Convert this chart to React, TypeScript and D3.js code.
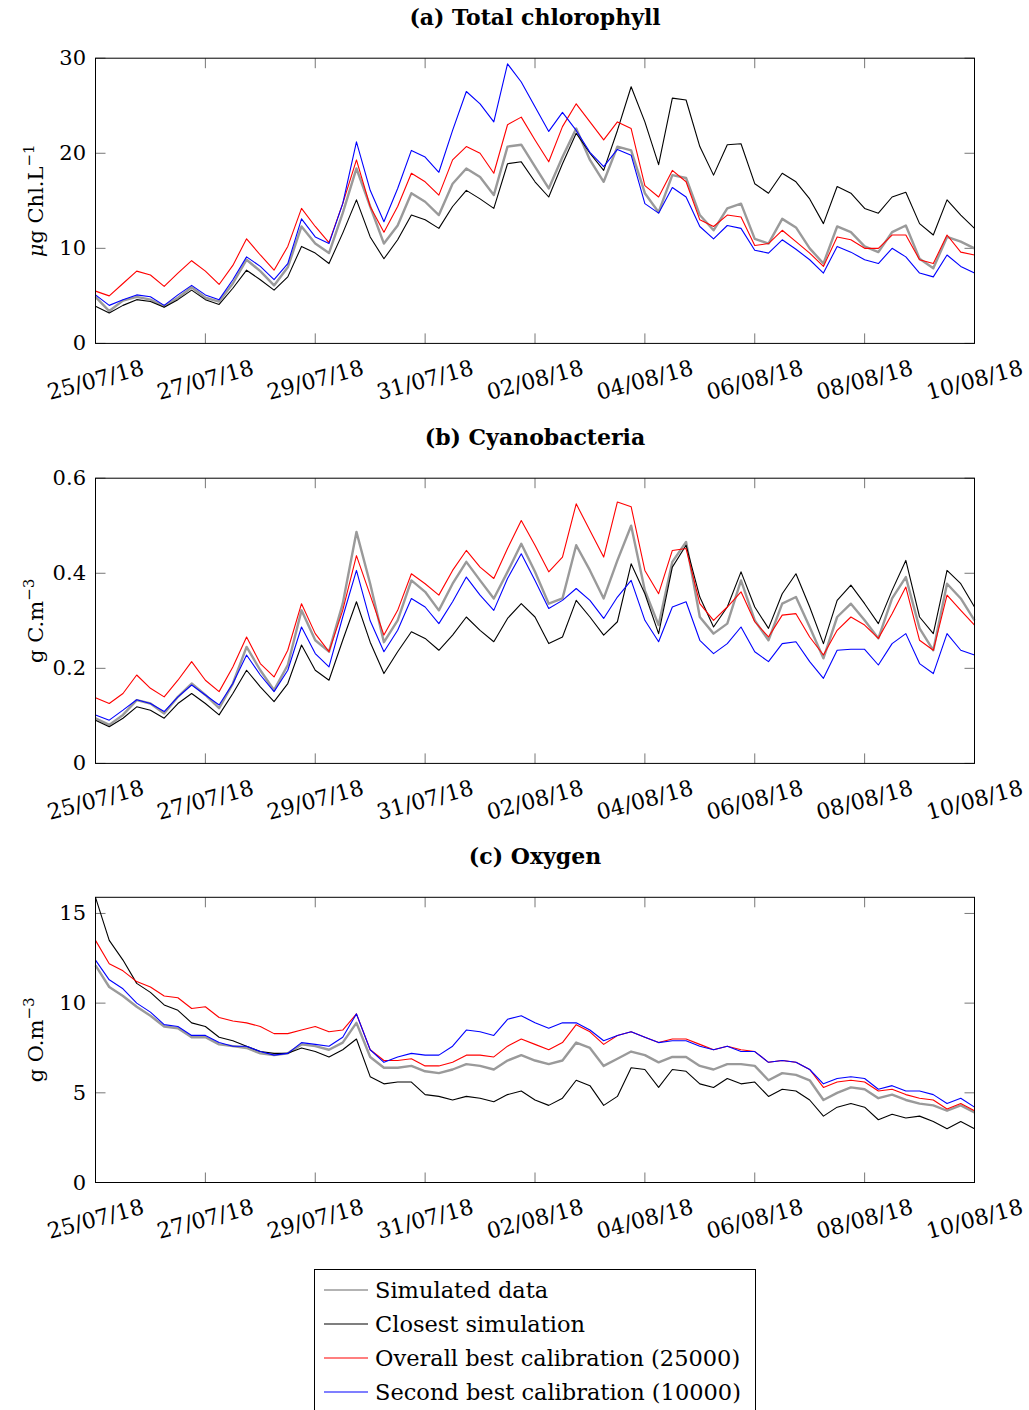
import React, { useEffect } from 'react';
import * as d3 from 'd3';

// sampling of every series: one value every 6 hours from 25/07/18 00:00
const START_DATE = '25/07/18';
const STEP_HOURS = 6;
const X_TICK_LABELS = ['25/07/18', '27/07/18', '29/07/18', '31/07/18', '02/08/18', '04/08/18', '06/08/18', '08/08/18', '10/08/18'];

const LEGEND_LABELS = ['Simulated data', 'Closest simulation', 'Overall best calibration (25000)', 'Second best calibration (10000)'];

// (a) Total chlorophyll, µg Chl.L-1
const CHL_SIMULATED = [
  4.9, 3.4, 4.5, 4.9, 4.6, 3.9, 4.8, 5.9, 4.8, 4.4, 6.3, 8.8, 7.6, 6.1, 8.0, 12.3, 10.5, 9.5, 13.7, 18.4, 14.4, 10.5,
  12.4, 15.8, 14.9, 13.5, 16.8, 18.4, 17.5, 15.6, 20.7, 20.9, 18.6, 16.3, 19.6, 22.6, 19.3, 17.0, 20.7, 20.3, 15.8, 13.8, 17.7,
  17.4, 13.5, 11.9, 14.2, 14.7, 11.0, 10.5, 13.1, 12.2, 10.0, 8.4, 12.3, 11.7, 10.2, 9.6, 11.7, 12.4, 8.9, 7.9, 11.2, 10.7, 10.0,
];
const CHL_CLOSEST = [
  3.9, 3.2, 4.0, 4.6, 4.4, 3.8, 4.6, 5.6, 4.6, 4.1, 5.8, 7.7, 6.7, 5.6, 7.0, 10.2, 9.5, 8.4, 11.6, 15.1, 11.2, 8.9,
  10.9, 13.5, 13.0, 12.1, 14.4, 16.1, 15.2, 14.2, 18.9, 19.1, 17.0, 15.4, 18.9, 22.1, 20.0, 18.2, 22.4, 27.0, 23.3, 18.8, 25.8,
  25.6, 20.7, 17.7, 20.9, 21.0, 16.8, 15.8, 17.9, 17.0, 15.2, 12.6, 16.5, 15.8, 14.2, 13.7, 15.4, 15.9, 12.6, 11.4, 15.1, 13.5, 12.1,
];
const CHL_BEST = [
  5.5, 5.0, 6.3, 7.6, 7.2, 6.0, 7.4, 8.7, 7.6, 6.2, 8.2, 11.0, 9.3, 7.7, 10.2, 14.2, 12.3, 10.6, 14.7, 19.3, 14.4, 11.7,
  14.4, 17.9, 17.0, 15.6, 19.3, 20.7, 20.0, 17.9, 23.0, 23.8, 21.4, 19.1, 22.8, 25.2, 23.3, 21.4, 23.3, 22.6, 16.6, 15.4, 18.2,
  17.0, 13.0, 12.3, 13.5, 13.3, 10.3, 10.5, 11.9, 10.7, 9.5, 8.1, 11.2, 10.9, 10.0, 10.0, 11.4, 11.4, 8.8, 8.4, 11.4, 9.6, 9.3,
];
const CHL_SECOND = [
  5.1, 4.0, 4.6, 5.1, 4.9, 4.0, 5.1, 6.1, 5.1, 4.6, 6.7, 9.1, 8.1, 6.7, 8.4, 13.1, 11.2, 10.5, 14.7, 21.2, 16.1, 12.8,
  16.3, 20.3, 19.6, 18.0, 22.4, 26.5, 25.2, 23.3, 29.4, 27.5, 24.9, 22.3, 24.3, 22.4, 20.1, 18.6, 20.4, 19.8, 14.7, 13.7, 16.4,
  15.4, 12.3, 11.0, 12.4, 12.1, 9.8, 9.5, 10.9, 9.9, 8.8, 7.4, 10.2, 9.6, 8.8, 8.4, 10.0, 9.1, 7.4, 7.0, 9.3, 8.1, 7.4,
];

// (b) Cyanobacteria, g C.m-3
const CYANO_SIMULATED = [
  0.095, 0.081, 0.102, 0.133, 0.126, 0.105, 0.140, 0.168, 0.144, 0.116, 0.168, 0.245, 0.196, 0.154, 0.207, 0.322, 0.259, 0.235, 0.336, 0.487, 0.378, 0.255,
  0.301, 0.385, 0.361, 0.322, 0.378, 0.424, 0.385, 0.347, 0.403, 0.462, 0.403, 0.336, 0.347, 0.459, 0.406, 0.347, 0.427, 0.500, 0.364, 0.291, 0.424,
  0.466, 0.308, 0.273, 0.294, 0.385, 0.301, 0.259, 0.336, 0.350, 0.287, 0.221, 0.308, 0.336, 0.301, 0.263, 0.347, 0.392, 0.284, 0.238, 0.378, 0.347, 0.301,
];
const CYANO_CLOSEST = [
  0.091, 0.077, 0.095, 0.119, 0.112, 0.095, 0.126, 0.147, 0.126, 0.102, 0.147, 0.196, 0.161, 0.130, 0.168, 0.249, 0.196, 0.175, 0.259, 0.340, 0.255, 0.189,
  0.235, 0.277, 0.263, 0.238, 0.270, 0.308, 0.280, 0.256, 0.305, 0.336, 0.308, 0.252, 0.266, 0.343, 0.308, 0.270, 0.298, 0.420, 0.357, 0.273, 0.413,
  0.459, 0.350, 0.287, 0.329, 0.403, 0.329, 0.284, 0.357, 0.399, 0.329, 0.252, 0.343, 0.375, 0.336, 0.294, 0.364, 0.427, 0.308, 0.273, 0.406, 0.378, 0.329,
];
const CYANO_BEST = [
  0.138, 0.126, 0.147, 0.186, 0.158, 0.140, 0.175, 0.214, 0.175, 0.151, 0.203, 0.266, 0.210, 0.182, 0.238, 0.336, 0.273, 0.235, 0.322, 0.437, 0.354, 0.270,
  0.322, 0.399, 0.378, 0.354, 0.406, 0.448, 0.413, 0.389, 0.452, 0.511, 0.459, 0.403, 0.434, 0.546, 0.490, 0.434, 0.550, 0.540, 0.406, 0.357, 0.448,
  0.452, 0.336, 0.301, 0.329, 0.361, 0.298, 0.266, 0.312, 0.315, 0.266, 0.228, 0.280, 0.308, 0.291, 0.263, 0.315, 0.371, 0.259, 0.238, 0.354, 0.322, 0.291,
];
const CYANO_SECOND = [
  0.102, 0.091, 0.112, 0.134, 0.126, 0.109, 0.140, 0.165, 0.144, 0.123, 0.168, 0.228, 0.186, 0.151, 0.196, 0.287, 0.231, 0.203, 0.308, 0.406, 0.300, 0.235,
  0.280, 0.347, 0.329, 0.294, 0.340, 0.392, 0.354, 0.322, 0.389, 0.441, 0.385, 0.326, 0.343, 0.368, 0.343, 0.305, 0.350, 0.385, 0.301, 0.256, 0.329,
  0.340, 0.259, 0.231, 0.252, 0.287, 0.235, 0.214, 0.252, 0.256, 0.214, 0.179, 0.238, 0.240, 0.240, 0.207, 0.252, 0.273, 0.210, 0.189, 0.273, 0.238, 0.228,
];

// (c) Oxygen, g O.m-3
const O2_SIMULATED = [
  12.1, 10.9, 10.4, 9.8, 9.3, 8.7, 8.6, 8.1, 8.1, 7.7, 7.6, 7.5, 7.2, 7.1, 7.2, 7.7, 7.6, 7.4, 7.8, 8.9, 7.0, 6.4,
  6.4, 6.5, 6.2, 6.1, 6.3, 6.6, 6.5, 6.3, 6.8, 7.1, 6.8, 6.6, 6.8, 7.8, 7.5, 6.5, 6.9, 7.3, 7.1, 6.7, 7.0,
  7.0, 6.5, 6.3, 6.6, 6.6, 6.5, 5.7, 6.1, 6.0, 5.7, 4.6, 5.0, 5.3, 5.2, 4.7, 4.9, 4.6, 4.4, 4.3, 4.0, 4.3, 3.9,
];
const O2_CLOSEST = [
  15.9, 13.5, 12.4, 11.1, 10.6, 9.9, 9.6, 8.9, 8.7, 8.1, 7.9, 7.6, 7.3, 7.2, 7.2, 7.5, 7.3, 7.0, 7.4, 8.0, 5.9, 5.5,
  5.6, 5.6, 4.9, 4.8, 4.6, 4.8, 4.7, 4.5, 4.9, 5.1, 4.6, 4.3, 4.7, 5.7, 5.4, 4.3, 4.8, 6.4, 6.3, 5.3, 6.3,
  6.2, 5.5, 5.3, 5.8, 5.5, 5.6, 4.8, 5.2, 5.1, 4.6, 3.7, 4.2, 4.4, 4.2, 3.5, 3.8, 3.6, 3.7, 3.4, 3.0, 3.4, 3.0,
];
const O2_BEST = [
  13.5, 12.2, 11.8, 11.2, 10.9, 10.4, 10.3, 9.7, 9.8, 9.2, 9.0, 8.9, 8.7, 8.3, 8.3, 8.5, 8.7, 8.4, 8.5, 9.4, 7.4, 6.8,
  6.8, 6.9, 6.5, 6.5, 6.7, 7.1, 7.1, 7.0, 7.6, 8.0, 7.7, 7.4, 7.8, 8.8, 8.4, 7.7, 8.2, 8.4, 8.1, 7.8, 8.0,
  8.0, 7.7, 7.4, 7.6, 7.4, 7.3, 6.7, 6.8, 6.7, 6.3, 5.3, 5.6, 5.7, 5.6, 5.1, 5.2, 4.9, 4.7, 4.6, 4.1, 4.4, 4.0,
];
const O2_SECOND = [
  12.4, 11.3, 10.8, 10.0, 9.5, 8.8, 8.7, 8.2, 8.2, 7.8, 7.6, 7.6, 7.3, 7.1, 7.2, 7.8, 7.7, 7.6, 8.1, 9.4, 7.4, 6.7,
  7.0, 7.2, 7.1, 7.1, 7.6, 8.5, 8.4, 8.2, 9.1, 9.3, 8.9, 8.6, 8.9, 8.9, 8.5, 7.9, 8.2, 8.4, 8.1, 7.8, 7.9,
  7.9, 7.6, 7.4, 7.6, 7.3, 7.3, 6.7, 6.8, 6.7, 6.3, 5.5, 5.8, 5.9, 5.8, 5.2, 5.4, 5.1, 5.1, 4.9, 4.4, 4.7, 4.2,
];

const COLORS = ['#9a9a9a', '#000000', '#ff0000', '#0000ff'];
const WIDTHS = [2.4, 1.1, 1.1, 1.1];
const FONT = '"DejaVu Serif", serif';

const W = 1029;
const H = 1410;
const LEFT = 95.5;
const RIGHT = 974.5;
const PLOT_H = 285.2;

const parse = d3.utcParse('%d/%m/%y');
const tickDates = X_TICK_LABELS.map((s) => parse(s) as Date);
const start = parse(START_DATE) as Date;

const Panel = ({ top, title, unit, sup, yMax, yTicks, series }) => {
  const bottom = top + PLOT_H;
  const x = d3.scaleUtc().domain([tickDates[0], tickDates[tickDates.length - 1]]).range([LEFT, RIGHT]);
  const y = d3.scaleLinear().domain([0, yMax]).range([bottom, top]);
  const line = d3
    .line<number>()
    .x((_, i) => x(d3.utcHour.offset(start, i * STEP_HOURS)))
    .y((d) => y(d));

  return (
    <g>
      <text x={(LEFT + RIGHT) / 2} y={top - 33} textAnchor="middle" fontFamily={FONT} fontWeight="bold" fontSize={22}>
        {title}
      </text>
      <text transform={`translate(43,${(top + bottom) / 2}) rotate(-90)`} textAnchor="middle" fontFamily={FONT} fontSize={21}>
        {unit}
        <tspan dy={-9} fontSize={15}>{sup}</tspan>
      </text>

      {tickDates.map((d, i) => (
        <g key={i}>
          <line x1={x(d)} x2={x(d)} y1={bottom} y2={bottom - 10} stroke="#777" />
          <line x1={x(d)} x2={x(d)} y1={top} y2={top + 10} stroke="#777" />
          <text
            transform={`translate(${x(d)},${bottom + 36.5}) rotate(-15)`}
            textAnchor="middle"
            dominantBaseline="central"
            fontFamily={FONT}
            fontSize={22}
          >
            {X_TICK_LABELS[i]}
          </text>
        </g>
      ))}
      {yTicks.map((v) => (
        <g key={v}>
          <line x1={LEFT} x2={LEFT + 10} y1={y(v)} y2={y(v)} stroke="#777" />
          <line x1={RIGHT} x2={RIGHT - 10} y1={y(v)} y2={y(v)} stroke="#777" />
          <text x={86} y={y(v)} textAnchor="end" dominantBaseline="central" fontFamily={FONT} fontSize={21}>
            {v}
          </text>
        </g>
      ))}

      {series.map((s, i) => (
        <path key={i} d={line(s) || ''} fill="none" stroke={COLORS[i]} strokeWidth={WIDTHS[i]} strokeLinejoin="round" />
      ))}
      <rect x={LEFT} y={top} width={RIGHT - LEFT} height={PLOT_H} fill="none" stroke="#000" strokeWidth={1} />
    </g>
  );
};

const App = () => {
  useEffect(() => {
    document.body.style.margin = '0';
  }, []);

  return (
    <svg width={W} height={H} style={{ display: 'block', background: '#fff' }}>
      <Panel
        top={58.2}
        title="(a)  Total chlorophyll"
        unit={<><tspan fontStyle="italic">μ</tspan>g Chl.L</>}
        sup="−1"
        yMax={30}
        yTicks={[0, 10, 20, 30]}
        series={[CHL_SIMULATED, CHL_CLOSEST, CHL_BEST, CHL_SECOND]}
      />
      <Panel
        top={478.2}
        title="(b)  Cyanobacteria"
        unit="g C.m"
        sup="−3"
        yMax={0.6}
        yTicks={[0, 0.2, 0.4, 0.6]}
        series={[CYANO_SIMULATED, CYANO_CLOSEST, CYANO_BEST, CYANO_SECOND]}
      />
      <Panel
        top={897.3}
        title="(c)  Oxygen"
        unit="g O.m"
        sup="−3"
        yMax={d3.max([O2_SIMULATED, O2_CLOSEST, O2_BEST, O2_SECOND].flat())}
        yTicks={[0, 5, 10, 15]}
        series={[O2_SIMULATED, O2_CLOSEST, O2_BEST, O2_SECOND]}
      />

      <g>
        <rect x={314.5} y={1269.5} width={441} height={160} fill="#fff" stroke="#000" />
        {LEGEND_LABELS.map((label, i) => (
          <g key={label} transform={`translate(0,${1290 + i * 34})`}>
            <line x1={324} x2={368} y1={0} y2={0} stroke={COLORS[i]} strokeWidth={i === 0 ? 1.6 : 1.1} />
            <text x={375} y={0} dominantBaseline="central" fontFamily={FONT} fontSize={22.5}>
              {label}
            </text>
          </g>
        ))}
      </g>
    </svg>
  );
};

export default App;
